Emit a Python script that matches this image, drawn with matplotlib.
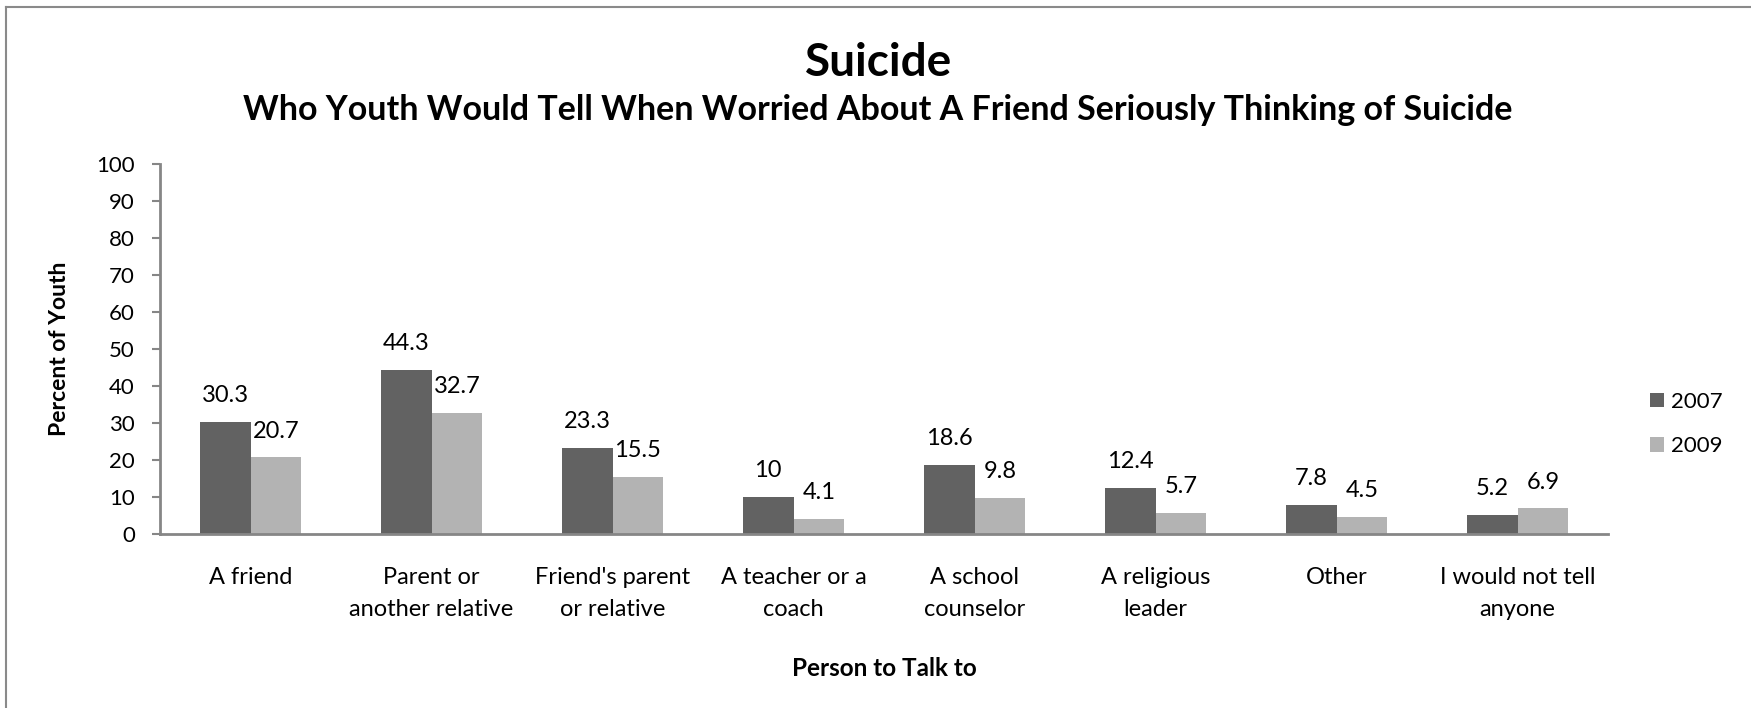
import matplotlib.pyplot as plt
import numpy as np
from matplotlib.lines import Line2D

plt.rcParams['font.family'] = ['Lato', 'DejaVu Sans']

# Data
categories = ['A friend', 'Parent or\nanother relative', "Friend's parent\nor relative",
              'A teacher or a\ncoach', 'A school\ncounselor', 'A religious\nleader',
              'Other', 'I would not tell\nanyone']
years = ['2007', '2009']
values_2007 = [30.3, 44.3, 23.3, 10, 18.6, 12.4, 7.8, 5.2]
values_2009 = [20.7, 32.7, 15.5, 4.1, 9.8, 5.7, 4.5, 6.9]
yticks = list(range(0, 101, 10))

dark = '#626262'
light = '#b3b3b3'
axis_gray = '#868686'

W, H = 1751, 708
fig = plt.figure(figsize=(W / 100, H / 100), dpi=100)
ax = fig.add_axes([160 / W, 1 - 534 / H, (1608 - 160) / W, (534 - 164) / H])

x = np.arange(len(categories))
bw = 0.28
b1 = ax.bar(x - bw / 2, values_2007, bw, color=dark, label=years[0])
b2 = ax.bar(x + bw / 2, values_2009, bw, color=light, label=years[1])

for bars, vals in [(b1, values_2007), (b2, values_2009)]:
    for rect, v in zip(bars, vals):
        ax.annotate(f'{v:g}', (rect.get_x() + rect.get_width() / 2, v),
                    xytext=(0, 19), textcoords='offset points',
                    ha='center', va='center', fontsize=17)

ax.set_xlim(-0.5, len(categories) - 0.5)
ax.set_ylim(0, 100)
ax.set_yticks(yticks)
ax.set_xticks(x)
ax.set_xticklabels(categories, fontsize=17, linespacing=1.6)
ax.tick_params(axis='x', length=0, pad=24)
ax.tick_params(axis='y', labelsize=16, length=6, width=1.5, color=axis_gray, pad=12)

for s in ['top', 'right']:
    ax.spines[s].set_visible(False)
for s in ['left', 'bottom']:
    ax.spines[s].set_color(axis_gray)
    ax.spines[s].set_linewidth(2)

ax.set_ylabel('Percent of Youth', fontsize=16.5, fontweight='bold')
ax.yaxis.set_label_coords((70 - 160) / (1608 - 160), 0.5)
ax.set_xlabel('Person to Talk to', fontsize=17.5, fontweight='bold', labelpad=27)

fig.text(879 / W, 1 - 63 / H, 'Suicide', ha='center', va='center',
         fontsize=33, fontweight='bold')
fig.text(878 / W, 1 - 110 / H,
         'Who Youth Would Tell When Worried About A Friend Seriously Thinking of Suicide',
         ha='center', va='center', fontsize=24.5, fontweight='bold')

ax.legend(loc='center left', bbox_to_anchor=(1630 / W, 1 - 424 / H),
          bbox_transform=fig.transFigure, frameon=False, fontsize=16,
          handlelength=0.65, handleheight=0.65, handletextpad=0.3, labelspacing=1.1)

# outer chart border (left and top edges visible)
fig.add_artist(Line2D([6 / W, 6 / W], [0, 1 - 7 / H], color='#8a8a8a', lw=1.5))
fig.add_artist(Line2D([6 / W, 1], [1 - 7 / H, 1 - 7 / H], color='#8a8a8a', lw=1.5))

fig.savefig('out.png', dpi=100)
